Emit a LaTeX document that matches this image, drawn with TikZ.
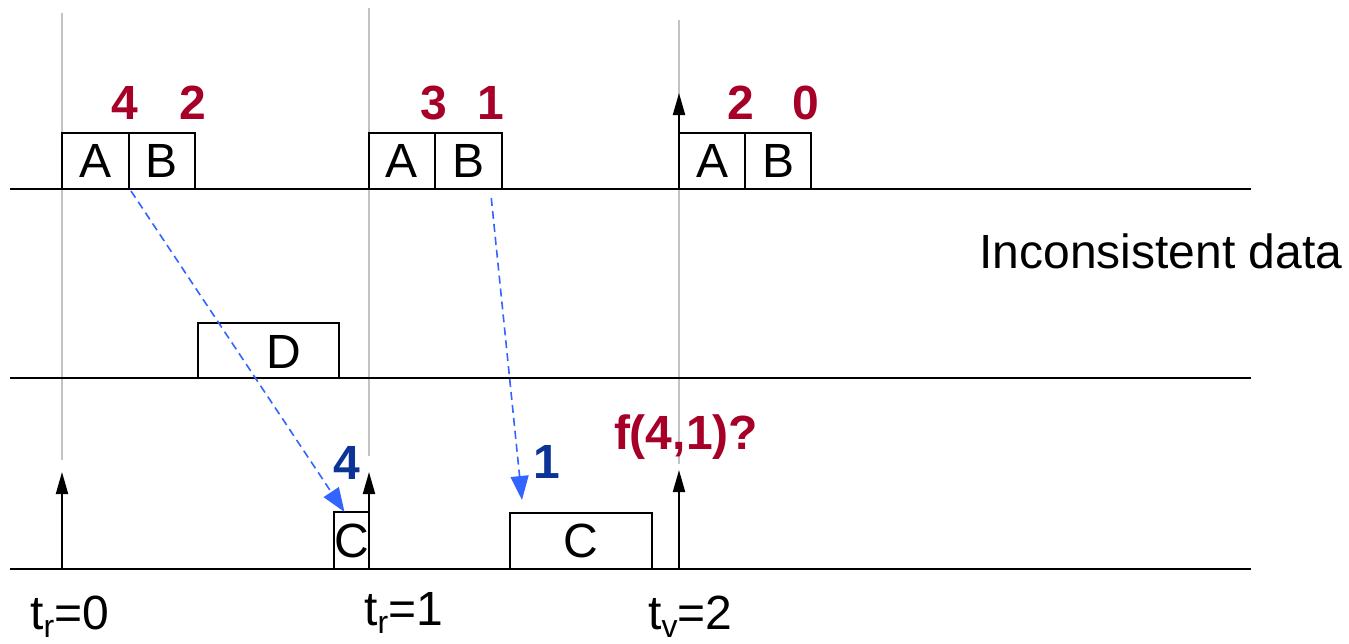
\documentclass[tikz,border=0pt]{standalone}
\usepackage{fontspec}
\setmainfont{Liberation Sans}
\usetikzlibrary{arrows.meta,calc}
\definecolor{numred}{RGB}{166,0,40}
\definecolor{numblue}{RGB}{12,52,150}
\definecolor{dashblue}{RGB}{50,100,255}
\definecolor{guidegray}{RGB}{195,195,195}
\begin{document}
\begin{tikzpicture}[x=0.5pt,y=-0.5pt,
  cell/.style={draw=black, line width=1pt, inner sep=0pt, outer sep=0pt, minimum height=28pt,
    font=\fontsize{24}{24}\selectfont},
  txt/.style={inner sep=0pt, font=\fontsize{24}{24}\selectfont},
  rnum/.style={inner sep=0pt, text=numred, font=\fontsize{24}{24}\selectfont\bfseries},
  bnum/.style={inner sep=0pt, text=numblue, font=\fontsize{24}{24}\selectfont\bfseries},
  guide/.style={draw=guidegray, line width=1pt},
  timeline/.style={draw=black, line width=1pt},
  tick/.style={draw=black, line width=1pt, -{Triangle[length=11pt,width=6pt]}},
  msg/.style={draw=dashblue, line width=0.8pt, dash pattern=on 4pt off 2.5pt,
    -{Triangle[length=12pt,width=9pt]}}]
\useasboundingbox (0,0) rectangle (1349,643);

% guide lines
\coordinate (g1t) at (62,13);  \coordinate (g1b) at (62,460);
\coordinate (g2t) at (369,8);  \coordinate (g2b) at (369,456);
\coordinate (g3t) at (679,20); \coordinate (g3b) at (679,464);
\draw[guide] (g1t) -- (g1b);
\draw[guide] (g2t) -- (g2b);
\draw[guide] (g3t) -- (g3b);

% timelines
\coordinate (l1s) at (10,189);  \coordinate (l1e) at (1251,189);
\coordinate (l2s) at (10,378);  \coordinate (l2e) at (1251,378);
\coordinate (l3s) at (10,569);  \coordinate (l3e) at (1251,569);
\draw[timeline] (l1s) -- (l1e);
\draw[timeline] (l2s) -- (l2e);
\draw[timeline] (l3s) -- (l3e);

% top row boxes
\node[cell, minimum width=33.5pt, anchor=south west] (a1) at (62,189) {A};
\node[cell, minimum width=33pt, anchor=south west] (b1) at (a1.south east) {B};
\node[cell, minimum width=33pt, anchor=south west] (a2) at (369,189) {A};
\node[cell, minimum width=33.5pt, anchor=south west] (b2) at (a2.south east) {B};
\node[cell, minimum width=33pt, anchor=south west] (a3) at (679,189) {A};
\node[cell, minimum width=33pt, anchor=south west] (b3) at (a3.south east) {B};

% middle row
\node[cell, minimum width=70.5pt, minimum height=27.5pt, anchor=south west] (d) at (198,378) {};
\node[txt] (dl) at (284,352) {D};

% bottom row
\node[cell, minimum width=17.5pt, minimum height=28.5pt, anchor=south west] (c1) at (334,569) {C};
\node[cell, minimum width=71pt, anchor=south west] (c2) at (510,569) {C};

% ticks
\coordinate (t1s) at (62,569);  \coordinate (t1e) at (62,472);
\coordinate (t2s) at (369,569); \coordinate (t2e) at (369,472);
\coordinate (t3s) at (679,569); \coordinate (t3e) at (679,470);
\coordinate (t4s) at (679,189); \coordinate (t4e) at (679,93);
\draw[tick] (t1s) -- (t1e);
\draw[tick] (t2s) -- (t2e);
\draw[tick] (t3s) -- (t3e);
\draw[tick] (t4s) -- (t4e);

% messages
\draw[msg] ($(a1.south east)+(2,2)$) -- ($(c1.north west)!0.3!(c1.north east)$);
\draw[msg] ($(b2.south west)!0.84!(b2.south east)+(0,9)$) -- ($(c2.north west)+(12,-13)$);

% red numbers
\node[rnum] (n1) at (125,103) {4};
\node[rnum] (n2) at (193,103) {2};
\node[rnum] (n3) at (434,103) {3};
\node[rnum] (n4) at (491,103) {1};
\node[rnum] (n5) at (741,103) {2};
\node[rnum] (n6) at (806,103) {0};
\node[rnum] (f) at (686,437) {f(4,1)?};

% blue numbers
\node[bnum] (m1) at (347,463) {4};
\node[bnum] (m2) at (547,462) {1};

% labels
\node[txt, anchor=base] (inc) at (1161,268) {Inconsistent data};
\node[txt, anchor=base west] (lt0) at (30,629) {t\raisebox{-4pt}{\fontsize{16}{16}\selectfont r}=0};
\node[txt, anchor=base west] (lt1) at (364,625) {t\raisebox{-4pt}{\fontsize{16}{16}\selectfont r}=1};
\node[txt, anchor=base west] (lt2) at (648,629) {t\raisebox{-4pt}{\fontsize{16}{16}\selectfont v}=2};
\end{tikzpicture}
\end{document}
